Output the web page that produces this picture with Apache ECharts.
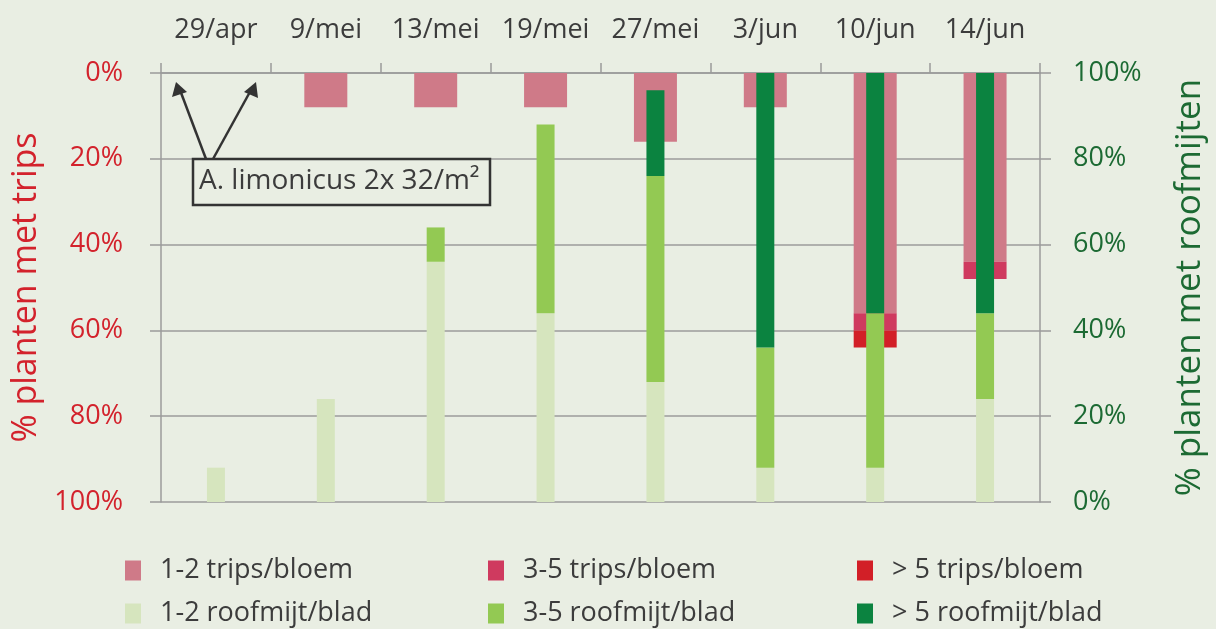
<!DOCTYPE html>
<html>
<head>
<meta charset="utf-8">
<script src="https://cdn.jsdelivr.net/npm/echarts@6/dist/echarts.min.js"></script>
<style>
  html, body { margin: 0; padding: 0; background: #e9eee3; }
  #chart { width: 1216px; height: 629px; }
</style>
</head>
<body>
<div id="chart"></div>
<script>
// sampling dates
const categories = ['29/apr', '9/mei', '13/mei', '19/mei', '27/mei', '3/jun', '10/jun', '14/jun'];

// % plants with thrips (left axis, hanging from the top)
const trips12 = [0, 8, 8, 8, 16, 8, 56, 44];
const trips35 = [0, 0, 0, 0, 0, 0, 4, 4];
const trips5 = [0, 0, 0, 0, 0, 0, 4, 0];

// % plants with predatory mites (right axis, from the bottom)
const mijt12 = [8, 24, 56, 44, 28, 8, 8, 24];
const mijt35 = [0, 0, 8, 44, 48, 28, 36, 20];
const mijt5 = [0, 0, 0, 0, 20, 64, 56, 56];

const FONT = 'Open Sans';
const GRID_COLOR = '#9b9b9b';
const TEXT_COLOR = '#3c3c3c';
const RED = '#d3222c';
const GREEN = '#1c6a33';

const chart = echarts.init(document.getElementById('chart'));

function tripsSeries(name, data, color) {
  return {
    name, type: 'bar', stack: 'trips', data,
    xAxisIndex: 0, yAxisIndex: 0,
    barWidth: 43, z: 2,
    itemStyle: { color },
  };
}

function mijtSeries(name, data, color) {
  return {
    name, type: 'bar', stack: 'mijt', data,
    xAxisIndex: 1, yAxisIndex: 1,
    barWidth: 18, z: 3,
    itemStyle: { color },
  };
}

function legendItem(name, left, top) {
  return {
    data: [name], left, top,
    padding: 0,
    orient: 'horizontal',
    itemWidth: 16, itemHeight: 20,
    icon: 'rect',
    selectedMode: false,
    textStyle: { fontFamily: FONT, fontSize: 27, color: TEXT_COLOR, padding: [0, 0, 0, 14] },
  };
}

const option = {
  backgroundColor: '#e9eee3',
  animation: false,
  grid: { left: 161, right: 171, top: 73, bottom: 127 },
  legend: [
    legendItem('1-2 trips/bloem', 125, 557),
    legendItem('3-5 trips/bloem', 488, 557),
    legendItem('> 5 trips/bloem', 857, 557),
    legendItem('1-2 roofmijt/blad', 125, 600),
    legendItem('3-5 roofmijt/blad', 488, 600),
    legendItem('> 5 roofmijt/blad', 857, 600),
  ],
  xAxis: [
    {
      type: 'category', data: categories, position: 'top',
      boundaryGap: true,
      axisLine: { lineStyle: { color: GRID_COLOR, width: 1.5 } },
      axisTick: { show: true, interval: 0, length: 10, lineStyle: { color: GRID_COLOR, width: 1.5 } },
      axisLabel: { interval: 0, fontFamily: FONT, fontSize: 27, color: TEXT_COLOR, margin: 29 },
    },
    {
      type: 'category', data: categories, position: 'bottom',
      boundaryGap: true, show: false,
    },
  ],
  yAxis: [
    {
      type: 'value', position: 'left', inverse: true,
      min: 0, max: 100, interval: 20,
      name: '% planten met trips', nameLocation: 'middle', nameRotate: 90, nameGap: 114,
      nameTextStyle: { fontFamily: FONT, fontSize: 34, color: RED },
      axisLine: { show: true, lineStyle: { color: GRID_COLOR, width: 1.5 } },
      axisTick: { show: true, length: 11, lineStyle: { color: GRID_COLOR, width: 1.5 } },
      splitLine: { show: true, lineStyle: { color: GRID_COLOR, width: 1.5 } },
      axisLabel: { formatter: '{value}%', fontFamily: FONT, fontSize: 27, color: RED, margin: 38 },
    },
    {
      type: 'value', position: 'right',
      min: 0, max: 100, interval: 20,
      name: '% planten met roofmijten', nameLocation: 'middle', nameRotate: 90, nameGap: 133,
      nameTextStyle: { fontFamily: FONT, fontSize: 35, color: GREEN },
      axisLine: { show: true, lineStyle: { color: GRID_COLOR, width: 1.5 } },
      axisTick: { show: true, length: 11, lineStyle: { color: GRID_COLOR, width: 1.5 } },
      splitLine: { show: false },
      axisLabel: { formatter: '{value}%', fontFamily: FONT, fontSize: 27, color: GREEN, margin: 33 },
    },
  ],
  series: [
    tripsSeries('1-2 trips/bloem', trips12, '#cf7a88'),
    tripsSeries('3-5 trips/bloem', trips35, '#cf3a5f'),
    tripsSeries('> 5 trips/bloem', trips5, '#d21f27'),
    mijtSeries('1-2 roofmijt/blad', mijt12, '#d6e5be'),
    mijtSeries('3-5 roofmijt/blad', mijt35, '#93c953'),
    mijtSeries('> 5 roofmijt/blad', mijt5, '#0b8340'),
  ],
  graphic: [
    // annotation arrows
    {
      type: 'line', z: 10,
      shape: { x1: 206, y1: 159, x2: 180, y2: 90 },
      style: { stroke: '#333', lineWidth: 2.5 },
    },
    {
      type: 'polygon', z: 10,
      shape: { points: [[176, 82], [172, 97], [187, 92]] },
      style: { fill: '#333' },
    },
    {
      type: 'line', z: 10,
      shape: { x1: 213, y1: 159, x2: 251, y2: 90 },
      style: { stroke: '#333', lineWidth: 2.5 },
    },
    {
      type: 'polygon', z: 10,
      shape: { points: [[256, 82], [244, 92], [258, 98]] },
      style: { fill: '#333' },
    },
    {
      type: 'rect', z: 10,
      shape: { x: 193, y: 159, width: 297, height: 46 },
      style: { fill: '#e9eee3', stroke: '#333', lineWidth: 2.5 },
    },
    {
      type: 'text', z: 11,
      x: 199, y: 181,
      style: {
        text: 'A. limonicus 2x 32/m²',
        font: '28px "Open Sans"',
        fill: '#3c3c3c',
        verticalAlign: 'middle',
      },
    },
  ],
};

chart.setOption(option);
</script>
</body>
</html>
